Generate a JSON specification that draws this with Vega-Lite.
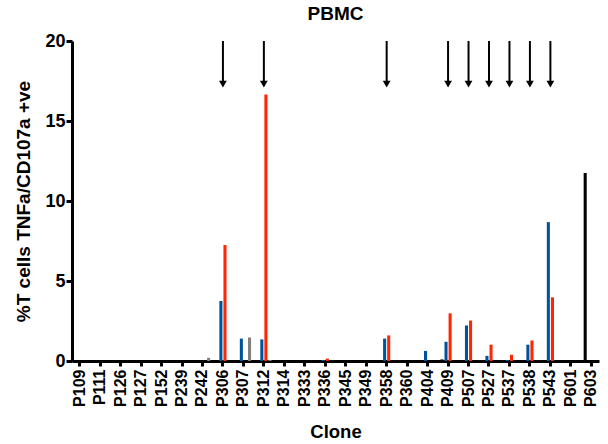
{
  "$schema": "https://vega.github.io/schema/vega-lite/v6.json",
  "autosize": "none",
  "width": 527,
  "height": 320,
  "padding": {"left": 72, "top": 41, "right": 9, "bottom": 83},
  "background": "white",
  "config": {
    "view": {"stroke": null},
    "font": "Liberation Sans",
    "axis": {"grid": false, "domainColor": "black", "domainWidth": 3, "tickColor": "black", "tickWidth": 3, "tickSize": 5, "labelColor": "black", "labelFont": "Liberation Sans", "labelFontWeight": "bold", "titleFont": "Liberation Sans", "titleFontWeight": "bold", "titleColor": "black"}
  },
  "title": {"text": "PBMC", "fontSize": 19, "fontWeight": "bold", "font": "Liberation Sans", "color": "black", "offset": 8, "anchor": "middle"},
  "layer": [
    {
      "data": {"values": [
        {"clone": "P242", "series": "grey", "value": 0.2},
        {"clone": "P306", "series": "blue", "value": 3.75},
        {"clone": "P306", "series": "red", "value": 7.25},
        {"clone": "P307", "series": "blue", "value": 1.4},
        {"clone": "P307", "series": "grey", "value": 1.47},
        {"clone": "P312", "series": "blue", "value": 1.35},
        {"clone": "P312", "series": "red", "value": 16.65},
        {"clone": "P312", "series": "grey", "value": 0.06},
        {"clone": "P336", "series": "blue", "value": 0.06},
        {"clone": "P336", "series": "red", "value": 0.15},
        {"clone": "P358", "series": "blue", "value": 1.4},
        {"clone": "P358", "series": "red", "value": 1.6},
        {"clone": "P404", "series": "black", "value": 0.06},
        {"clone": "P404", "series": "blue", "value": 0.63},
        {"clone": "P409", "series": "black", "value": 0.1},
        {"clone": "P409", "series": "blue", "value": 1.2},
        {"clone": "P409", "series": "red", "value": 2.98},
        {"clone": "P507", "series": "blue", "value": 2.22},
        {"clone": "P507", "series": "red", "value": 2.53},
        {"clone": "P527", "series": "blue", "value": 0.32},
        {"clone": "P527", "series": "red", "value": 1.02},
        {"clone": "P537", "series": "blue", "value": 0.06},
        {"clone": "P537", "series": "red", "value": 0.39},
        {"clone": "P538", "series": "blue", "value": 1.02},
        {"clone": "P538", "series": "red", "value": 1.28},
        {"clone": "P543", "series": "blue", "value": 8.68},
        {"clone": "P543", "series": "red", "value": 3.98},
        {"clone": "P603", "series": "black", "value": 11.75}
      ]},
      "mark": {"type": "bar", "clip": false},
      "encoding": {
        "x": {"field": "clone", "type": "nominal", "title": "Clone",
          "scale": {"domain": ["P109","P111","P126","P127","P152","P239","P242","P306","P307","P312","P314","P333","P336","P345","P349","P358","P360","P404","P409","P507","P527","P537","P538","P543","P601","P603"], "paddingInner": 0.25, "paddingOuter": 0},
          "axis": {"labelAngle": -90, "labelFontSize": 16, "labelAlign": "right", "labelBaseline": "middle", "labelPadding": 3, "titleFontSize": 18.5, "titlePadding": 16}},
        "xOffset": {"field": "series", "type": "nominal", "scale": {"domain": ["black", "blue", "red", "grey"], "paddingInner": 0.25}},
        "y": {"field": "value", "type": "quantitative", "title": "%T cells TNFa/CD107a +ve",
          "scale": {"domain": [0, 20], "nice": false},
          "axis": {"values": [0, 5, 10, 15, 20], "labelFontSize": 18, "titleFontSize": 19, "titlePadding": 11, "labelPadding": 1, "tickSize": 6}},
        "color": {"field": "series", "type": "nominal", "legend": null,
          "scale": {"domain": ["black", "blue", "red", "grey"], "range": ["#000000", "#00529B", "#FF2600", "#808080"]}}
      }
    },
    {
      "data": {"values": [
        {"clone": "P306"}, {"clone": "P312"}, {"clone": "P358"}, {"clone": "P409"}, {"clone": "P507"}, {"clone": "P527"}, {"clone": "P537"}, {"clone": "P538"}, {"clone": "P543"}
      ]},
      "mark": {"type": "rule", "color": "black", "strokeWidth": 2},
      "encoding": {
        "x": {"field": "clone", "type": "nominal"},
        "y": {"datum": 20},
        "y2": {"datum": 17.5}
      }
    },
    {
      "data": {"values": [
        {"clone": "P306"}, {"clone": "P312"}, {"clone": "P358"}, {"clone": "P409"}, {"clone": "P507"}, {"clone": "P527"}, {"clone": "P537"}, {"clone": "P538"}, {"clone": "P543"}
      ]},
      "mark": {"type": "point", "shape": "triangle-down", "filled": true, "color": "black", "size": 60, "opacity": 1},
      "encoding": {
        "x": {"field": "clone", "type": "nominal"},
        "y": {"datum": 17.3}
      }
    }
  ]
}
